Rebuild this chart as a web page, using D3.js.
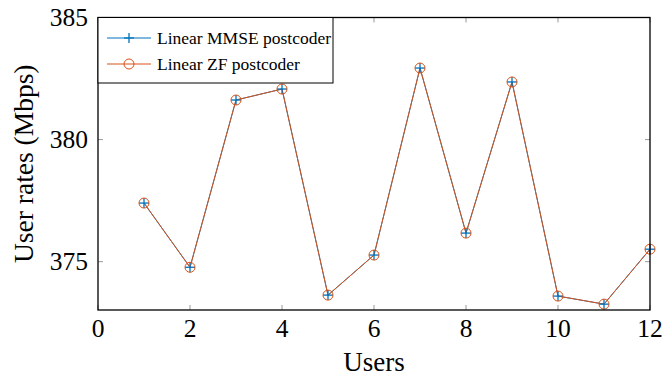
<!DOCTYPE html>
<html>
<head>
<meta charset="utf-8">
<script src="https://cdn.jsdelivr.net/npm/d3@7"></script>
<style>
  body { margin: 0; background: #fff; }
</style>
</head>
<body>
<svg id="chart" width="662" height="376"></svg>
<script>
const users = [1, 2, 3, 4, 5, 6, 7, 8, 9, 10, 11, 12];
const mmseRates = [377.40, 374.77, 381.62, 382.07, 373.63, 375.27, 382.93, 376.17, 382.36, 373.59, 373.26, 375.51];
const zfRates = [377.40, 374.77, 381.62, 382.07, 373.63, 375.27, 382.93, 376.17, 382.36, 373.59, 373.26, 375.51];
const xTicks = [0, 2, 4, 6, 8, 10, 12];
const yTicks = [375, 380, 385];
const seriesNames = ["Linear MMSE postcoder", "Linear ZF postcoder"];

const blue = "#0072bd";
const orange = "#d95319";
const serif = "'Liberation Serif', 'Times New Roman', Times, 'DejaVu Serif', serif";

const svg = d3.select("#chart").attr("font-family", serif);
const plotL = 98, plotR = 650, plotT = 17.5, plotB = 310;

const x = d3.scaleLinear().domain([0, 12]).range([plotL, plotR]);
const y = d3.scaleLinear().domain([373.02, 385]).range([plotB, plotT]);

// ticks pointing inward, gray, on all four sides
const tickLen = 5;
const grid = svg.append("g").attr("stroke", "#999").attr("stroke-width", 1);
xTicks.forEach(function (t) {
  grid.append("line").attr("x1", x(t)).attr("x2", x(t)).attr("y1", plotB).attr("y2", plotB - tickLen);
  grid.append("line").attr("x1", x(t)).attr("x2", x(t)).attr("y1", plotT).attr("y2", plotT + tickLen);
});
yTicks.forEach(function (t) {
  grid.append("line").attr("x1", plotL).attr("x2", plotL + tickLen).attr("y1", y(t)).attr("y2", y(t));
  grid.append("line").attr("x1", plotR).attr("x2", plotR - tickLen).attr("y1", y(t)).attr("y2", y(t));
});

// tick labels
svg.append("g").selectAll("text")
  .data(xTicks)
  .enter()
  .append("text")
  .attr("x", function (d) { return x(d); })
  .attr("y", 337)
  .attr("text-anchor", "middle")
  .attr("font-size", 25.5)
  .attr("font-family", serif)
  .text(function (d) { return d; });

svg.append("g").selectAll("text")
  .data(yTicks)
  .enter()
  .append("text")
  .attr("x", 88)
  .attr("y", function (d) { return y(d) + 8.5; })
  .attr("text-anchor", "end")
  .attr("font-size", 25.5)
  .attr("font-family", serif)
  .text(function (d) { return d; });

// axis titles
svg.append("text")
  .attr("x", (plotL + plotR) / 2)
  .attr("y", 371)
  .attr("text-anchor", "middle")
  .attr("font-size", 27)
  .attr("font-family", serif)
  .text("Users");

svg.append("text")
  .attr("transform", "translate(33," + (plotT + plotB) / 2 + ") rotate(-90)")
  .attr("text-anchor", "middle")
  .attr("font-size", 27.5)
  .attr("font-family", serif)
  .text("User rates (Mbps)");

// lines
const line = d3.line()
  .x(function (d) { return x(d[0]); })
  .y(function (d) { return y(d[1]); });

const mmsePts = d3.zip(users, mmseRates);
const zfPts = d3.zip(users, zfRates);

svg.append("path").datum(mmsePts).attr("d", line)
  .attr("fill", "none").attr("stroke", blue).attr("stroke-width", 1);
svg.append("path").datum(zfPts).attr("d", line)
  .attr("fill", "none").attr("stroke", orange).attr("stroke-width", 1);

function plus(g, cx, cy) {
  g.append("line").attr("x1", cx - 5).attr("x2", cx + 5).attr("y1", cy).attr("y2", cy);
  g.append("line").attr("x1", cx).attr("x2", cx).attr("y1", cy - 5).attr("y2", cy + 5);
}

const plusG = svg.append("g").attr("stroke", blue).attr("stroke-width", 1.3);
mmsePts.forEach(function (d) { plus(plusG, x(d[0]), y(d[1])); });

svg.append("g").selectAll("circle")
  .data(zfPts)
  .enter()
  .append("circle")
  .attr("cx", function (d) { return x(d[0]); })
  .attr("cy", function (d) { return y(d[1]); })
  .attr("r", 5)
  .attr("fill", "none")
  .attr("stroke", orange)
  .attr("stroke-width", 1);

// frame
svg.append("rect")
  .attr("x", plotL).attr("y", plotT)
  .attr("width", plotR - plotL).attr("height", plotB - plotT)
  .attr("fill", "none").attr("stroke", "#000").attr("stroke-width", 1.3);

// legend
const lg = svg.append("g");
lg.append("rect")
  .attr("x", plotL).attr("y", plotT)
  .attr("width", 235).attr("height", 65.5)
  .attr("fill", "#fff").attr("stroke", "#000").attr("stroke-width", 1);

const rowY = [38, 64];
seriesNames.forEach(function (name, i) {
  const c = i === 0 ? blue : orange;
  lg.append("line").attr("x1", 107).attr("x2", 151).attr("y1", rowY[i]).attr("y2", rowY[i])
    .attr("stroke", c).attr("stroke-width", 1);
  if (i === 0) {
    const pg = lg.append("g").attr("stroke", blue).attr("stroke-width", 1.3);
    plus(pg, 129, rowY[i]);
  } else {
    lg.append("circle").attr("cx", 129).attr("cy", rowY[i]).attr("r", 5)
      .attr("fill", "none").attr("stroke", orange).attr("stroke-width", 1);
  }
  lg.append("text")
    .attr("x", 157)
    .attr("y", rowY[i] + 6)
    .attr("font-size", 17.5)
    .attr("font-family", serif)
    .text(name);
});
</script>
</body>
</html>
